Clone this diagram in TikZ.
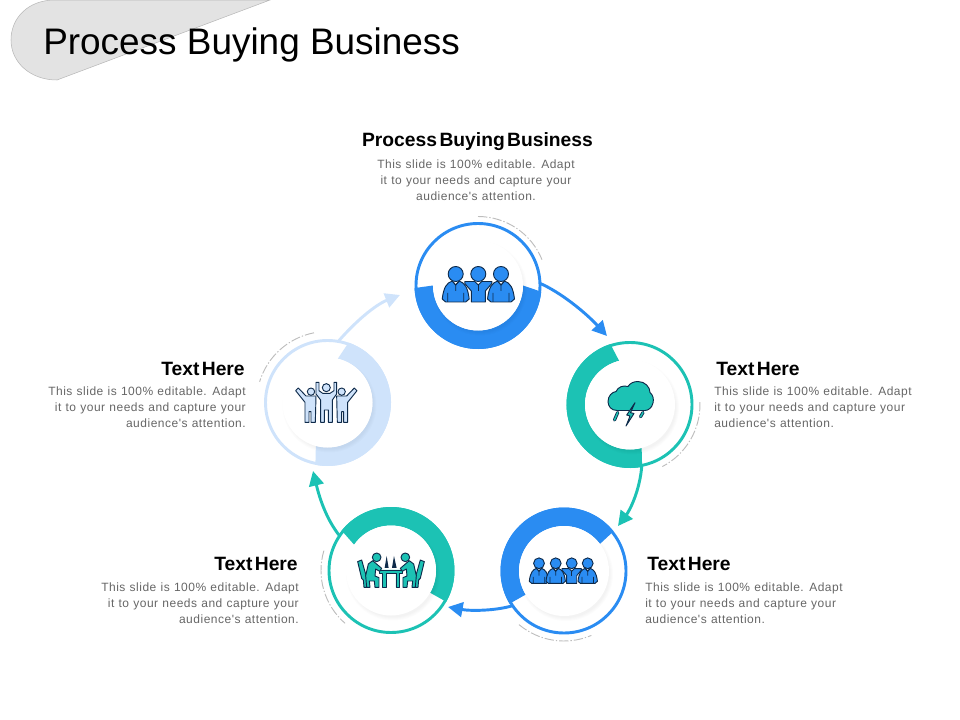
\documentclass[tikz,border=0pt]{standalone}
\usepackage{fontspec}
\setmainfont{Liberation Sans}
\newfontfamily\headf{Liberation Sans}[WordSpace=0.45]
\newfontfamily\bodyf{Liberation Sans}[LetterSpace=4.2,WordSpace=1.1]
\usetikzlibrary{arrows.meta}
\definecolor{cblue}{HTML}{2A8CF2}
\definecolor{cteal}{HTML}{1CC2B4}
\definecolor{clight}{HTML}{CFE3FB}
\definecolor{cdark}{HTML}{0E2A4A}
\definecolor{cdash}{HTML}{BDBDBD}
\tikzset{
  ringnode/.style={circle,draw=#1,line width=2.2pt,minimum size=93pt,inner sep=0pt,outer sep=0pt,fill=white},
  conn/.style={draw=#1,line width=2.2pt,-{Triangle[length=11pt,width=11pt,fill=#1]}},
  headtext/.style={font=\headf\bfseries\fontsize{14.45}{17}\selectfont,text=black,inner sep=0pt},
  bodytext/.style={font=\bodyf\fontsize{9}{12}\selectfont,text=black!60,inner sep=0pt},
  icon/.style={draw=cdark,line width=0.7pt,line join=round,fill=#1},
  dashedarc/.style={draw=cdash,line width=0.7pt,dash pattern=on 7pt off 1.5pt on 1pt off 1.5pt}
}
\newcommand{\myband}[7]{% cx cy colour a1 a2 b2 b1
  \fill[#3,shift={(#1,#2)},y=0.75pt] (#4:63.5) arc[start angle=#4,end angle=#5,radius=63.5] -- (#6:45) arc[start angle=#6,end angle=#7,radius=45] -- cycle;
  \foreach \sr in {47,46,45,44}{\fill[black,opacity=0.013] (#1+2,#2+3) circle[radius=\sr];}
  \fill[white] (#1,#2) circle[radius=45];
}
\newcommand{\myarc}[5]{% cx cy r a1 a2
  \draw[dashedarc,shift={(#1,#2)},y=0.75pt] (#4:#3) arc[start angle=#4,end angle=#5,radius=#3];
}
\newcommand{\myperson}[4]{% x y scale colour
  \begin{scope}[shift={(#1,#2)},scale=#3]
    \filldraw[icon=#4] (-3.5,7) .. controls (-9,9) and (-12,13) .. (-13.5,25) -- (-10,28) -- (10,28) -- (13.5,25) .. controls (12,13) and (9,9) .. (3.5,7) -- (0,11) -- cycle;
    \draw[cdark,line width=0.6pt] (-8,19) -- (-8,28) (8,19) -- (8,28) (-3.5,7) -- (0,11) -- (3.5,7) (0,11) -- (0,17);
    \filldraw[icon=#4] (0,0) circle[radius=7.5];
  \end{scope}
}
\newcommand{\mymiddle}[4]{% x y scale colour
  \begin{scope}[shift={(#1,#2)},scale=#3]
    \filldraw[icon=#4] (-13.5,7.5) -- (-3.5,7.5) -- (0,11) -- (3.5,7.5) -- (13.5,7.5) -- (13.5,9.5) -- (7,17) -- (7,28) -- (-7,28) -- (-7,17) -- (-13.5,9.5) -- cycle;
    \draw[cdark,line width=0.6pt] (0,11) -- (0,17);
    \filldraw[icon=#4] (0,0) circle[radius=7.5];
  \end{scope}
}
\newcommand{\mysitter}{%
  \filldraw[icon=cteal] (143,200) -- (155,195) -- (170,248) -- (172,277) -- (162,277) -- (160,255) -- (155,250) -- cycle;
  \filldraw[icon=cteal] (188,197) -- (215,220) -- (209,229) -- (197,222) -- (195,243) -- (207,248) -- (207,277) -- (195,277) -- (193,258) -- (178,258) -- (180,277) -- (170,277) -- (167,242) -- (175,207) -- cycle;
  \filldraw[icon=cteal] (200,187) circle[radius=13];
}
\newcommand{\mycheer}{%
  \filldraw[icon=clight] (137,212) -- (145,204) -- (168,228) -- (198,228) -- (196,307) -- (183,307) -- (183,275) -- (177,275) -- (177,307) -- (165,307) -- (165,247) -- cycle;
  \filldraw[icon=clight] (183,215) circle[radius=11];
}
\begin{document}
\begin{tikzpicture}[x=0.75pt,y=-0.75pt]
\useasboundingbox (0,0) rectangle (960,720);
% title tab
\filldraw[fill=black!11,draw=black!28,line width=0.4pt] (270,0) -- (57,80) .. controls (30,80) and (11,62) .. (11,40) .. controls (11,18) and (28,0) .. (55,0) -- cycle;
\node[anchor=base west,inner sep=0pt,font=\fontsize{27.7}{32}\selectfont,text=black] (title) at (43,54.5) {Process Buying Business};
% rings
\node[ringnode=cblue] (c1) at (478,285.5) {};
\node[ringnode=cteal] (c2) at (630,404.5) {};
\node[ringnode=cblue] (c3) at (564,571) {};
\node[ringnode=cteal] (c4) at (391,570.5) {};
\node[ringnode=clight] (c5) at (327.5,402.5) {};
% bands
\myband{478}{285.5}{cblue}{-5.6}{-177.7}{-180}{0}
\myband{630}{404.5}{cteal}{108}{281}{285}{104}
\myband{564}{571}{cblue}{38.7}{211}{211.6}{37}
\myband{391}{570.5}{cteal}{141}{-29.5}{-29.6}{145}
\myband{327.5}{402.5}{clight}{70.6}{-101}{-105}{76.7}
% dash-dot arcs
\myarc{478}{285.5}{69}{90}{22}
\myarc{630}{404.5}{70}{2}{-62.5}
\myarc{564}{571}{70}{230}{293}
\myarc{391}{570.5}{70}{163.5}{229}
\myarc{327.5}{402.5}{71}{101}{163}
% connectors
\coordinate (t2) at (607,336);
\coordinate (t3) at (618,526);
\coordinate (t4) at (448,607);
\coordinate (t5) at (313,471);
\coordinate (t1) at (400,295);
\draw[conn=cblue] (c1.2) .. controls (560,292) and (585,312) .. (t2);
\draw[conn=cteal] (c2.-79) .. controls (640,490) and (630,510) .. (t3);
\draw[conn=cblue] (c3.214) .. controls (495,611) and (470,611) .. (t4);
\draw[conn=cteal] (c4.146) .. controls (327,520) and (320,500) .. (t5);
\draw[conn=clight] (c5.80) .. controls (355,322) and (375,305) .. (t1);
% icon 1
\myperson{455.7}{274}{1}{cblue}
\mymiddle{478.3}{274}{1}{cblue}
\myperson{501}{274}{1}{cblue}
% icon 3
\myperson{539}{563.3}{0.72}{cblue}
\myperson{555.7}{563.3}{0.72}{cblue}
\mymiddle{571.7}{563.3}{0.72}{cblue}
\myperson{587.7}{563.3}{0.72}{cblue}
% icon 2: storm cloud
\filldraw[icon=cteal] (617,410.5) .. controls (611,410.5) and (608,406) .. (608,401.5) .. controls (608,396) and (612,392) .. (616,391.5) .. controls (618,387) and (623,385) .. (628,386.5) .. controls (630,383) and (634,381.5) .. (638,381.5) .. controls (645,381.5) and (650,387) .. (650,392.5) .. controls (653,395) and (654,399) .. (653,403) .. controls (652,408) and (648,410.5) .. (645,410.5) -- cycle;
\filldraw[icon=cteal] (635,402.7) -- (626.7,415) -- (630,416) -- (626,426) -- (634,413.5) -- (630.5,412.7) -- cycle;
\draw[cdark,line width=2.4pt,line cap=round] (617.7,412.5) -- (614.5,420) (643,412.5) -- (640.5,416.8);
\draw[cteal,line width=1.1pt,line cap=round] (617.7,412.5) -- (614.5,420) (643,412.5) -- (640.5,416.8);
% icon 4: meeting
\begin{scope}[shift={(310,495)},scale=0.3333]
  \filldraw[icon=cteal] (208,225) -- (278,225) -- (278,235) -- (268,235) -- (268,277) -- (258,277) -- (258,235) -- (228,235) -- (228,277) -- (218,277) -- (218,235) -- (208,235) -- cycle;
  \fill[cdark] (230,183) -- (224,219) -- (236,219) -- cycle;
  \fill[cdark] (252,183) -- (246,219) -- (260,219) -- cycle;
  \mysitter
  \begin{scope}[shift={(486,0)},xscale=-1]\mysitter\end{scope}
\end{scope}
% icon 5: cheering people
\begin{scope}[shift={(250,320)},scale=0.3333]
  \mycheer
  \begin{scope}[shift={(458,0)},xscale=-1]\mycheer\end{scope}
  \filldraw[icon=clight] (198,187) -- (207,187) -- (207,212) -- (218,220) -- (240,220) -- (252,212) -- (252,187) -- (260,187) -- (260,222) -- (247,240) -- (247,307) -- (235,307) -- (235,270) -- (223,270) -- (223,307) -- (212,307) -- (212,240) -- (198,222) -- cycle;
  \filldraw[icon=clight] (229,203) circle[radius=12];
\end{scope}
% text
\node[headtext,anchor=base] (h1) at (477.5,147) {Process Buying Business};
\node[bodytext,anchor=north,align=center] (b1) at (476,159.8) {This slide is 100\% editable. Adapt\\it to your needs and capture your\\audience's attention.};
\node[headtext,anchor=base west] (h2) at (716,375) {Text Here};
\node[bodytext,anchor=north west,align=left] (b2) at (714,386.8) {This slide is 100\% editable. Adapt\\it to your needs and capture your\\audience's attention.};
\node[headtext,anchor=base west] (h3) at (647,570) {Text Here};
\node[bodytext,anchor=north west,align=left] (b3) at (645,582.8) {This slide is 100\% editable. Adapt\\it to your needs and capture your\\audience's attention.};
\node[headtext,anchor=base east] (h4) at (298,570) {Text Here};
\node[bodytext,anchor=north east,align=right] (b4) at (299,582.8) {This slide is 100\% editable. Adapt\\it to your needs and capture your\\audience's attention.};
\node[headtext,anchor=base east] (h5) at (245,375) {Text Here};
\node[bodytext,anchor=north east,align=right] (b5) at (246,386.8) {This slide is 100\% editable. Adapt\\it to your needs and capture your\\audience's attention.};
\end{tikzpicture}
\end{document}
